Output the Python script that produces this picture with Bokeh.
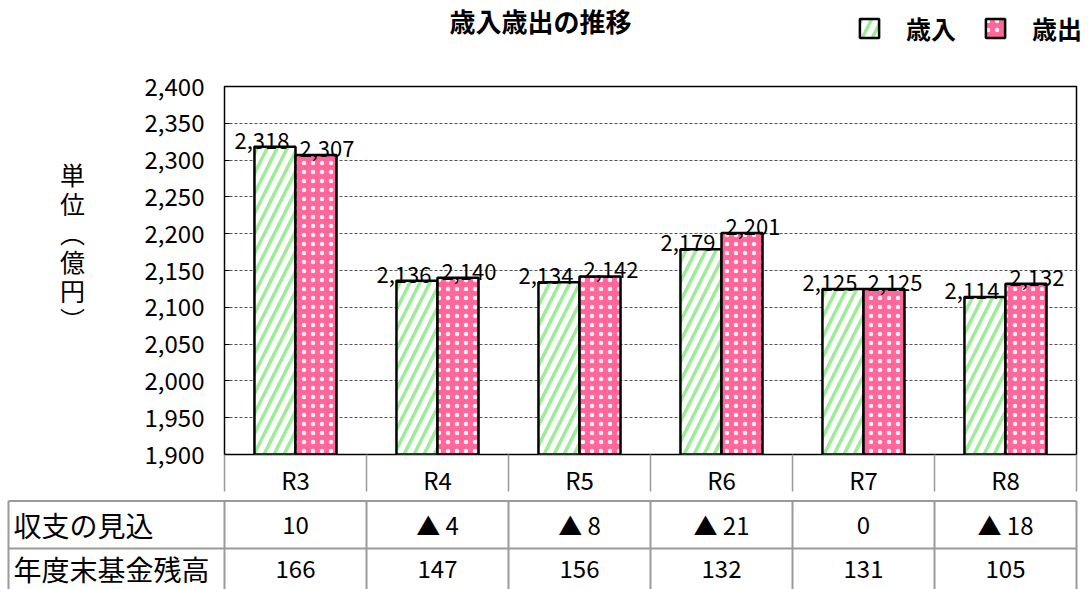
import numpy as np
from bokeh.plotting import figure
from bokeh.models import (Range1d, FixedTicker, NumeralTickFormatter, Label,
                          Legend, LegendItem, ColumnDataSource)
from bokeh.layouts import column, row
from bokeh.embed import file_html
from bokeh.resources import INLINE
from bokeh.core.properties import value

# ---------------- data ----------------
years = ["R3", "R4", "R5", "R6", "R7", "R8"]
revenue = [2318, 2136, 2134, 2179, 2125, 2114]        # 歳入
expenditure = [2307, 2140, 2142, 2201, 2125, 2132]    # 歳出
balance = [10, -4, -8, -21, 0, -18]                   # 収支の見込
fund = [166, 147, 156, 132, 131, 105]                 # 年度末基金残高
series_names = ["歳入", "歳出"]
row_headers = ["収支の見込", "年度末基金残高"]
title_text = "歳入歳出の推移"
y_label = "単位（億円）"
y_ticks = [1900, 1950, 2000, 2050, 2100, 2150, 2200, 2250, 2300, 2350, 2400]

# ---------------- layout / style ----------------
FONT = "Noto Sans CJK JP"
W = 1092
H_HEAD = 50
H_MID = 449
H_TAB = 90
W_YLAB = 110
FL, FR, FT, FB = 224, 16, 86, 36          # plot-area edges on the page
CW = (W - FL - FR) / len(years)
BW = 0.289
GREEN = "#9ded97"
PINK = "#ff6699"
GRID = "#9a9a9a"

REV_STYLE = dict(fill_color="white", hatch_pattern="right_diagonal_line",
                 hatch_color=GREEN, hatch_scale=20, hatch_weight=3.5,
                 line_color="black", line_width=2.5)
EXP_STYLE = dict(fill_color=PINK, hatch_pattern="dot", hatch_color="white",
                 hatch_scale=9, hatch_weight=0.5, hatch_alpha=0.9,
                 line_color="black", line_width=2.5)


def bare(width, height, xr, yr):
    f = figure(width=width, height=height, x_range=xr, y_range=yr,
               output_backend="svg", toolbar_location=None, min_border=0,
               x_axis_location=None, y_axis_location=None)
    f.outline_line_color = None
    f.grid.visible = False
    f.border_fill_color = "white"
    f.background_fill_color = "white"
    f.frame_align = False
    return f


idx = np.arange(len(years))
src = ColumnDataSource(dict(
    x_rev=idx - BW / 2, x_exp=idx + BW / 2,
    rev=revenue, exp=expenditure,
    rev_lbl=[f"{v:,}" for v in revenue],
    exp_lbl=[f"{v:,}" for v in expenditure],
))

# ---------------- header: title + legend ----------------
h = bare(W, H_HEAD, Range1d(0, W), Range1d(0, H_HEAD))
leg_rev = h.vbar(x="x_rev", top="rev", bottom=y_ticks[0], width=BW, source=src,
                 visible=False, **REV_STYLE)
leg_exp = h.vbar(x="x_exp", top="exp", bottom=y_ticks[0], width=BW, source=src,
                 visible=False, **EXP_STYLE)
h.add_layout(Label(x=540, y=H_HEAD - 1, x_units="screen", y_units="screen",
                   text=title_text, text_align="center", text_baseline="top",
                   text_font=FONT, text_font_size="26px", text_font_style="bold",
                   text_color="black"))
legend = Legend(items=[LegendItem(label=series_names[0], renderers=[leg_rev]),
                       LegendItem(label=series_names[1], renderers=[leg_exp])],
                location=(857, H_HEAD - 46), orientation="horizontal",
                glyph_width=24, glyph_height=24, label_standoff=25, spacing=27,
                padding=0, margin=0, border_line_color=None,
                background_fill_alpha=0, inactive_fill_alpha=0,
                label_text_font=FONT, label_text_font_size="25px",
                label_text_font_style="bold", label_text_color="black")
h.add_layout(legend)

# ---------------- y label (stacked characters) ----------------
yl = bare(W_YLAB, H_MID, Range1d(0, W_YLAB), Range1d(0, H_MID))
vert = {"（": "︵", "）": "︶"}
stacked = "\n".join(vert.get(c, c) for c in y_label)
yl.add_layout(Label(x=72, y=H_MID - (155 - H_HEAD), x_units="screen", y_units="screen",
                    text=stacked, text_align="center", text_baseline="top",
                    text_font=FONT, text_font_size="25px", text_line_height=0.81,
                    text_color="black"))

# ---------------- main bar chart ----------------
p = figure(width=W - W_YLAB, height=H_MID,
           x_range=Range1d(-0.5, len(years) - 0.5),
           y_range=Range1d(y_ticks[0], y_ticks[-1]),
           output_backend="svg", toolbar_location=None,
           min_border_left=FL - W_YLAB, min_border_right=FR,
           min_border_top=FT - H_HEAD, min_border_bottom=FB)
p.frame_align = False
p.outline_line_color = "black"
p.outline_line_width = 1.5
p.background_fill_color = "white"
p.border_fill_color = "white"

p.vbar(x="x_rev", top="rev", bottom=y_ticks[0], width=BW, source=src, **REV_STYLE)
p.vbar(x="x_exp", top="exp", bottom=y_ticks[0], width=BW, source=src, **EXP_STYLE)

p.text(x="x_rev", y="rev", text="rev_lbl", source=src, x_offset=-13, y_offset=-6,
       text_align="center", text_baseline="alphabetic",
       text_font=value(FONT), text_font_size="22px", text_color="black")
p.text(x="x_exp", y="exp", text="exp_lbl", source=src, x_offset=11, y_offset=-6,
       text_align="center", text_baseline="alphabetic",
       text_font=value(FONT), text_font_size="22px", text_color="black")

p.yaxis.ticker = FixedTicker(ticks=y_ticks)
p.yaxis.formatter = NumeralTickFormatter(format="0,0")
p.yaxis.axis_line_color = None
p.yaxis.major_tick_in = 5
p.yaxis.major_tick_out = 0
p.yaxis.major_tick_line_color = "black"
p.yaxis.minor_tick_line_color = None
p.yaxis.major_label_standoff = 20
p.yaxis.major_label_text_font = FONT
p.yaxis.major_label_text_font_size = "24px"
p.yaxis.major_label_text_color = "black"

p.ygrid.ticker = FixedTicker(ticks=y_ticks)
p.ygrid.grid_line_color = "#555555"
p.ygrid.grid_line_dash = "3 2"
p.ygrid.grid_line_width = 1
p.xgrid.visible = False

# x axis: category labels; minor ticks act as the column separators of the table
p.xaxis.ticker = FixedTicker(ticks=list(idx),
                             minor_ticks=[i - 0.5 for i in range(len(years) + 1)])
p.xaxis.major_label_overrides = {int(i): y for i, y in zip(idx, years)}
p.xaxis.axis_line_color = None
p.xaxis.major_tick_in = 0
p.xaxis.major_tick_out = 0
p.xaxis.minor_tick_in = 0
p.xaxis.minor_tick_out = FB + 1
p.xaxis.minor_tick_line_color = GRID
p.xaxis.minor_tick_line_width = 1.5
p.xaxis.major_label_standoff = -30
p.xaxis.major_label_text_font = FONT
p.xaxis.major_label_text_font_size = "24px"
p.xaxis.major_label_text_color = "black"

# ---------------- table below ----------------
x_left = -0.5 - FL / CW
x_right = -0.5 + (W - FL) / CW
t = bare(W, H_TAB, Range1d(x_left, x_right), Range1d(H_TAB, 0))

tab_l = -0.5 + (8 - FL) / CW
col_edges = [tab_l] + [i - 0.5 for i in range(len(years) + 1)]
row_lines = [1.5, 49]
t.segment(x0=[tab_l] * len(row_lines), x1=[len(years) - 0.5] * len(row_lines),
          y0=row_lines, y1=row_lines, line_color=GRID, line_width=2)
t.segment(x0=col_edges, x1=col_edges, y0=[1.5] * len(col_edges),
          y1=[H_TAB] * len(col_edges), line_color=GRID, line_width=2)

row_y = [25, 69]
t.text(x=[-0.5 + (13 - FL) / CW] * 2, y=row_y, text=row_headers,
       text_align="left", text_baseline="middle",
       text_font=value(FONT), text_font_size="28px", text_color="black")

bal_lbl = [f"▲ {abs(v)}" if v < 0 else str(v) for v in balance]
t.text(x=idx, y=[row_y[0]] * len(idx), text=bal_lbl,
       text_align="center", text_baseline="middle",
       text_font=value(FONT), text_font_size="24px", text_color="black")
t.text(x=idx, y=[row_y[1]] * len(idx), text=[str(v) for v in fund],
       text_align="center", text_baseline="middle",
       text_font=value(FONT), text_font_size="24px", text_color="black")

layout = column(h, row(yl, p, spacing=0), t, spacing=0)
open("out.html", "w").write(file_html(layout, INLINE))
